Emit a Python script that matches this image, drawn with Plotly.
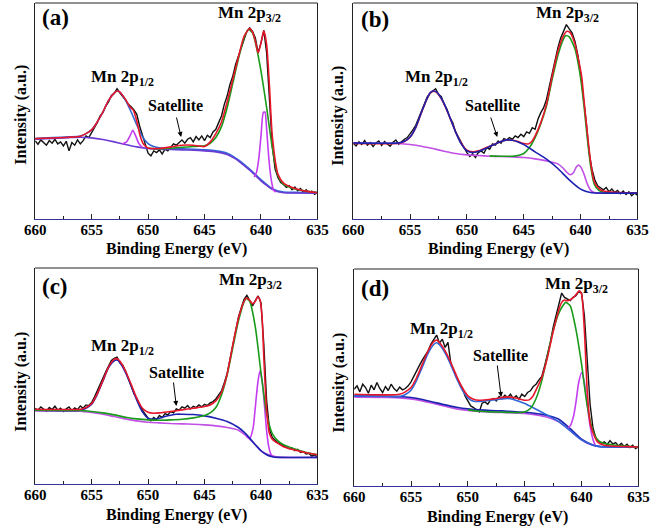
import plotly.graph_objects as go

W, H = 661, 528

# ---------------- Panel (a) ----------------
A_DATA = [235,225,238,230,222,236,228,240,226,232,220,234,205,230,222,238,226,236,250,245,
          262,275,290,310,320,340,352,372,378,392,380,370,358,345,338,328,315,280,250,222,
          198,190,205,200,208,196,210,205,215,226,222,230,238,228,240,245,232,248,238,250,
          236,252,245,262,270,290,310,345,370,405,430,465,490,520,545,565,575,565,545,500,
          530,568,500,370,220,150,125,110,104,95,100,88,96,85,92,80,88,78,84,74,80]

A_RED_X = [660,657,656,655.5,655,654.5,654,653.5,653,652.75,652.5,652,651.6,651.3,651,650.7,650.4,650,649,648,
           647,646,645,644.5,644,643.5,643,642.5,642,641.5,641,640.75,640.5,640.25,640,639.75,639.5,639.25,639,638.5,
           638,637,636,635]
A_RED_Y = [242,246,249,257,268,292,322,357,379,385,382,360,337,327,295,250,225,214,212,217,
           222,222,218,232,257,292,352,420,487,550,573,562,535,500,530,566,525,400,250,135,
           108,92,84,79]

A_GREEN_X = [650,649,648,647,646,645.5,645,644.5,644,643.5,643,642.5,642,641.5,641.1,640.75,640.5,640,639.5,639,
             638.5,638,637.5,637,636,635]
A_GREEN_Y = [213,211,213,216,218,219,220,228,245,278,335,408,482,545,570,560,532,445,335,215,
             130,104,96,90,84,79]

A_BLUE_X = [660,657,656,655.5,655,654.5,654,653.5,653,652.75,652.5,652,651.5,651,650.5,650,649.5,649,648,647,
            646,645,644,643,642,641,640,639,638,637,635]
A_BLUE_Y = [242,247,250,257,268,292,322,357,379,385,382,358,322,283,248,227,218,214,212,211,
            210,208,205,198,178,150,118,91,81,80,80]

A_BG_X = [660,657,656,655,654,653,652,651,650,649,648,647,646,645,644,643.5,643,642.5,642,641.5,
          641,640.5,640,639.5,639,638.5,638,635]
A_BG_Y = [240,245,246,244,239,232,224,217,212,210,209,208,207,205,202,199,194,186,175,161,
          147,131,115,101,89,82,79,78]

A_MAG1_X = [652.3,651.9,651.6,651.35,651.1,650.8,650.5]
A_MAG1_Y = [226,232,250,267,250,226,215]
A_MAG2_X = [640.6,640.4,640.2,640.0,639.8,639.65,639.5,639.3,639.1,638.9,638.7]
A_MAG2_Y = [126,140,180,250,320,322,270,180,120,88,81]

# ---------------- Panel (b) ----------------
B_DATA = [228,220,232,224,236,222,230,218,229,235,221,233,226,219,231,238,225,234,240,
          245,255,268,282,305,327,345,367,378,385,
          392,375,368,345,330,305,290,262,245,228,
          215,200,188,196,185,200,205,198,215,210,
          226,222,235,228,242,238,245,240,250,245,
          255,248,262,258,275,270,300,320,335,360,
          400,440,480,515,545,565,585,572,560,535,
          495,440,370,290,200,150,118,100,94,88,
          95,82,90,80,86,76,84,74,82,70,
          78,72]

B_RED_X = [660,656,655.5,655,654.5,654,653.5,653.25,653,652.75,652.5,652,651.5,651,650.5,650,649.5,649,648.5,648,
           647.5,647,646.5,646,645.5,645,644.6,644.3,644,643.5,643,642.5,642,641.5,641.2,640.9,640.5,640.2,639.9,639.7,
           639.4,639.1,638.8,638.4,638,637,636,635]
B_RED_Y = [227,228,233,246,275,320,362,378,384,383,375,346,305,263,228,207,202,205,212,219,
           226,233,238,237,233,227,226,233,250,290,345,430,505,552,565,560,527,482,427,357,
           257,167,112,92,84,80,79,79]

B_GREEN_X = [648,647,646,645.5,645,644.5,644,643.5,643,642.5,642,641.5,641.3,641,640.5,640,639.7,639.4,639.1,638.8,
             638.4,638,637,635]
B_GREEN_Y = [190,189,189,191,197,215,245,287,340,420,492,542,552,548,512,425,340,240,155,105,
             86,81,79,79]

B_BLUE_X = [660,656,655.5,655,654.5,654,653.5,653.25,653,652.75,652.5,652,651.5,651,650.5,650,649.5,649,648.5,648,
            647.5,647,646.5,646,645.5,645,644,643,642,641,640,639.5,639,635]
B_BLUE_Y = [229,229,234,247,276,321,363,379,385,384,376,347,306,262,226,205,200,203,210,218,
            226,233,238,237,232,224,202,180,152,118,90,83,79,78]

B_BG_X = [660,657,656,655,654,653,652,651,650,649,648,647,646,645,644,643,642,641.5,641.2,640.9,
          640.6,640.4,640.2,640,639.7,639.4,639.1,638.8,638.4,635]
B_BG_Y = [228,228,227,224,219,212,204,197,193,191,189,188,187,185,181,175,166,152,140,133,
          141,155,162,157,135,105,86,80,78,78]

# ---------------- Panel (c) ----------------
C_DATA = [228,222,232,226,219,230,224,234,222,228,218,226,232,220,229,224,235,228,238,
          236,245,262,282,298,318,338,355,372,378,
          382,365,358,340,318,295,272,258,240,222,
          210,198,190,200,194,206,200,212,208,218,
          214,226,222,232,228,236,226,234,230,238,
          232,240,236,244,248,256,268,280,305,332,
          375,420,465,502,530,556,568,552,536,552,
          566,545,420,250,165,140,132,124,120,115,
          112,106,108,100,104,95,98,90,92,84,
          88,80]

C_RED_X = [660,656,655.5,655,654.5,654,653.5,653,652.75,652.5,652,651.5,651,650.5,650,649.5,649,648,647,646,
           645,644.5,644,643.5,643,642.5,642,641.5,641.3,641,640.75,640.5,640.3,640.1,639.9,639.75,639.5,639.25,639,638.5,
           638,637,636,635]
C_RED_Y = [225,225,230,242,272,312,352,375,377,370,340,300,258,228,216,213,214,218,223,228,
           233,238,250,276,330,418,498,550,560,553,542,550,563,556,500,380,222,152,135,122,
           112,102,94,88]

C_GREEN_X = [660,656,655,654,653,652,651,650,649,648,647,646,645,644.5,644,643.5,643,642.5,642,641.5,
             641.3,641,640.5,640,639.5,639,638.5,638,637,636,635]
C_GREEN_Y = [222,221,218,214,208,201,196,193,192,193,195,199,206,214,230,268,328,410,490,548,
             558,550,472,335,212,152,130,118,105,95,88]

C_BLUE_X = [660,656,655.5,655,654.5,654,653.5,653,652.75,652.5,652,651.5,651,650.5,650,649.5,649,648.5,648,647.5,
            647,646,645,644,643,642,641.5,641,640.5,640,639.5,639,638.5,635]
C_BLUE_Y = [222,222,228,240,270,310,350,371,373,366,336,296,252,217,198,195,198,203,207,210,
            210,209,205,198,188,170,156,138,118,100,88,82,80,80]

C_BG_X = [660,657,656,655,654,653,652,651,650,649,648,647,646,645,644,643,642,641.5,641,640.5,
          640,639.5,639,638.5,635]
C_BG_Y = [220,220,219,215,210,203,196,190,186,184,182,181,180,178,175,170,162,150,135,118,
          100,90,84,81,80]

C_MAG_X = [641.3,641.0,640.7,640.5,640.3,640.1,639.9,639.7,639.5,639.3,639.1,638.9]
C_MAG_Y = [144,137,168,232,300,340,312,240,160,110,88,82]

# ---------------- Panel (d) ----------------
D_DATA = [290,300,282,305,295,278,302,288,310,292,280,298,286,305,292,284,296,
          288,292,300,312,330,345,362,378,392,405,
          425,440,452,428,440,415,430,368,345,325,
          310,295,270,256,240,235,228,222,248,252,
          245,258,262,255,268,262,272,265,275,262,
          270,260,275,268,280,285,298,305,318,328,
          360,395,430,475,510,545,578,565,560,555,
          565,570,582,578,510,385,245,175,145,135,
          128,132,124,136,126,130,120,128,118,125,
          115,122,112,118]

D_RED_X = [660,657,656,655.5,655,654.5,654,653.5,653,652.75,652.5,652,651.5,651,650.5,650,649.5,649,648,647,
           646.5,646,645.5,645,644.6,644.3,644,643.5,643,642.5,642,641.75,641.5,641.25,641,640.7,640.4,640.2,640,639.75,
           639.5,639.25,639,638.6,638,637,636,635]
D_RED_Y = [275,273,275,282,295,325,365,405,432,437,430,405,370,330,295,270,260,257,260,265,
           267,265,261,257,258,268,288,325,385,462,528,550,557,555,558,565,577,585,575,465,
           285,190,160,132,122,119,118,117]

D_GREEN_X = [650,649,648,647,646,645.5,645,644.5,644,643.5,643,642.5,642,641.7,641.4,641,640.5,640,639.5,639,
             638.5,638,637,636,635]
D_GREEN_Y = [228,224,222,221,220,220,222,232,262,315,390,465,518,537,550,540,470,365,240,165,
             135,127,122,119,117]

D_BLUE_X = [660,657,656,655.5,655,654.5,654,653.5,653,652.75,652.5,652,651.5,651,650.5,650,649.5,649,648,647,
            646.5,646,645,644,643,642,641,640,639,638.5,635]
D_BLUE_Y = [270,268,268,274,287,317,357,397,424,429,423,398,363,323,288,264,254,253,257,261,
            262,259,247,230,212,193,166,138,122,118,117]

D_BLUEBG_X = [660,657,656,655,654,653,652,651,650,649,648,647,646,645,644,643,642,641,640,639,
              638.5,635]
D_BLUEBG_Y = [270,269,268,265,259,251,243,236,231,228,226,225,223,221,217,211,200,172,140,123,
              119,117]

D_BG_X = [660,657,656,655,654,653,652,651,650,649,648,647,646,645,644,643,642,641.5,641,640.5,
          640,639.5,639,638.5,638,635]
D_BG_Y = [266,265,264,261,255,247,239,231,226,223,221,220,219,217,213,206,192,180,166,151,
          138,128,122,119,117,116]

D_MAG_X = [641.3,641.0,640.7,640.5,640.25,640.0,639.75,639.5,639.25,639.0,638.8]
D_MAG_Y = [172,180,210,250,310,340,310,245,180,140,122]

TICK_VALUES = [660, 655, 650, 645, 640, 635]

# ---------------- styling ----------------
BLACK = "#111111"
RED = "#e8162a"
GREEN = "#1a9a1a"
BLUE = "#2f66d8"
DARKBLUE = "#1c22b0"
MAGENTA = "#c43cf0"
PURPLE = "#6b3cd4"
VIOLET = "#c050e6"
SERIF = "Liberation Serif, Times New Roman, serif"

fig = go.Figure()

def grid(vals):
    return [660 - 0.25 * i for i in range(len(vals))]

def line(ax, x, y, color, width=1.6):
    xa = "x" if ax == 1 else f"x{ax}"
    ya = "y" if ax == 1 else f"y{ax}"
    fig.add_trace(go.Scatter(x=x, y=y, mode="lines", xaxis=xa, yaxis=ya,
                             line=dict(color=color, width=width, shape="spline", smoothing=0.6),
                             hoverinfo="skip", showlegend=False))

def data(ax, vals):
    xa = "x" if ax == 1 else f"x{ax}"
    ya = "y" if ax == 1 else f"y{ax}"
    fig.add_trace(go.Scatter(x=grid(vals), y=vals, mode="lines", xaxis=xa, yaxis=ya,
                             line=dict(color=BLACK, width=1.4),
                             hoverinfo="skip", showlegend=False))

# (a)
data(1, A_DATA)
line(1, A_BLUE_X, A_BLUE_Y, BLUE)
line(1, A_BG_X, A_BG_Y, PURPLE)
line(1, A_MAG1_X, A_MAG1_Y, MAGENTA)
line(1, A_MAG2_X, A_MAG2_Y, MAGENTA)
line(1, A_GREEN_X, A_GREEN_Y, GREEN)
line(1, A_RED_X, A_RED_Y, RED)
# (b)
data(2, B_DATA)
line(2, B_BG_X, B_BG_Y, VIOLET)
line(2, B_GREEN_X, B_GREEN_Y, GREEN)
line(2, B_RED_X, B_RED_Y, RED)
line(2, B_BLUE_X, B_BLUE_Y, DARKBLUE)
# (c)
data(3, C_DATA)
line(3, C_BG_X, C_BG_Y, VIOLET)
line(3, C_MAG_X, C_MAG_Y, MAGENTA)
line(3, C_BLUE_X, C_BLUE_Y, DARKBLUE)
line(3, C_GREEN_X, C_GREEN_Y, GREEN)
line(3, C_RED_X, C_RED_Y, RED)
# (d)
data(4, D_DATA)
line(4, D_BG_X, D_BG_Y, VIOLET)
line(4, D_BLUEBG_X, D_BLUEBG_Y, DARKBLUE)
line(4, D_MAG_X, D_MAG_Y, MAGENTA)
line(4, D_BLUE_X, D_BLUE_Y, BLUE)
line(4, D_GREEN_X, D_GREEN_Y, GREEN)
line(4, D_RED_X, D_RED_Y, RED)

# panel geometry (pixels): left, right, top, bottom
PANELS = [(25, 317, 3, 219), (354, 648, 3, 219), (25, 317, 268, 484), (355, 649, 269, 486)]

layout = dict(width=W, height=H, margin=dict(l=0, r=0, t=0, b=0),
              paper_bgcolor="white", plot_bgcolor="white", showlegend=False)
shapes = []
for i, (l, r, t, b) in enumerate(PANELS, start=1):
    xk = "xaxis" if i == 1 else f"xaxis{i}"
    yk = "yaxis" if i == 1 else f"yaxis{i}"
    ya = "y" if i == 1 else f"y{i}"
    xa = "x" if i == 1 else f"x{i}"
    layout[xk] = dict(domain=[l / W, r / W], range=[660, 635], anchor=ya,
                      tickmode="array", tickvals=TICK_VALUES,
                      ticktext=[str(v) for v in TICK_VALUES],
                      ticks="inside", ticklen=5, tickwidth=1, tickcolor="#222",
                      ticklabelstandoff=-3,
                      minor=dict(dtick=2.5, tick0=635, ticks="inside", ticklen=3,
                                 tickcolor="#222", showgrid=False),
                      showgrid=False, zeroline=False, showline=True, mirror=False,
                      linecolor="#34349a", linewidth=1.2,
                      tickfont=dict(family=SERIF, size=15, color="black", weight="bold"))
    layout[yk] = dict(domain=[1 - b / H, 1 - t / H], range=[0, 650], anchor=xa,
                      showticklabels=False, ticks="", showgrid=False, zeroline=False,
                      showline=True, mirror=True, linecolor="#222", linewidth=1)
    shapes.append(dict(type="line", xref=f"{xa} domain", yref=f"{ya} domain",
                       x0=0, x1=1, y0=1, y1=1, line=dict(color="#222", width=1)))

fig.update_layout(**layout)
fig.update_layout(shapes=shapes)

def ann(px, py, text, size, **kw):
    d = dict(x=px / W, y=1 - py / H, xref="paper", yref="paper", text=text,
             showarrow=False,
             font=dict(family=SERIF, size=size, color="black", weight="bold"),
             xanchor="center", yanchor="middle")
    d.update(kw)
    fig.add_annotation(**d)

LABELS = [
    # (label pos, 3/2 pos, 1/2 pos, satellite pos, arrow head, arrow tail, xtitle pos, ytitle pos)
    ("(a)", (46, 18), (247, 14), (115, 78), (170, 106), (176, 137), (171, 116), (171, 249), (10, 115)),
    ("(b)", (377, 19), (576, 14), (440, 78), (498, 106), (503, 137), (496, 116), (504, 249), (338, 116)),
    ("(c)", (46, 286), (248, 281), (115, 347), (171, 372), (171, 406), (168, 381), (171, 515), (10, 382)),
    ("(d)", (377, 288), (585, 285), (445, 330), (506, 355), (507, 397), (503, 364), (503, 517), (339, 383)),
]
for lab, lp, p32, p12, ps, head, tail, xt, yt in LABELS:
    ann(lp[0], lp[1], lab, 23)
    ann(p32[0], p32[1], "Mn 2p<sub>3/2</sub>", 17)
    ann(p12[0], p12[1], "Mn 2p<sub>1/2</sub>", 17)
    ann(ps[0], ps[1], "Satellite", 16)
    fig.add_annotation(x=head[0] / W, y=1 - head[1] / H, xref="paper", yref="paper",
                       ax=tail[0] - head[0], ay=tail[1] - head[1], text="",
                       showarrow=True, arrowhead=2, arrowsize=1, arrowwidth=1, arrowcolor="black")
    ann(xt[0], xt[1], "Binding Energy (eV)", 16)
    ann(yt[0], yt[1], "Intensity (a.u.)", 16, textangle=-90)

fig.write_html("out.html", config={"displayModeBar": False},
               post_script="document.body.style.margin='0px';document.body.style.overflow='hidden';")
